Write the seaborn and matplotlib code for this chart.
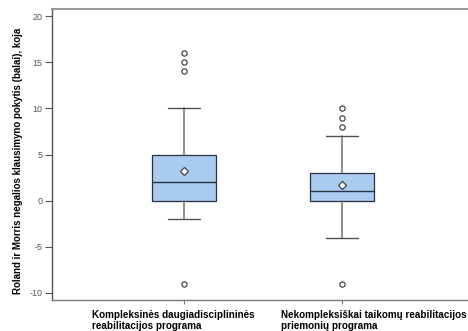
import matplotlib
matplotlib.use("Agg")
import matplotlib.pyplot as plt
import seaborn as sns

# Group names (two-line x labels)
groups = ["Kompleksinės daugiadisciplininės\nreabilitacijos programa",
          "Nekompleksiškai taikomų reabilitacijos\npriemonių programa"]

# Box statistics for each group
q1 = [0, 0]
median = [2, 1]
q3 = [5, 3]
whisker_low = [-2, -4]
whisker_high = [10, 7]
means = [3.2, 1.65]
outliers = [[14, 15, 16, -9], [8, 9, 10, -9]]

y_label = "Roland ir Morris negalios klausimyno pokytis (balai), koja"
y_ticks = [-10, -5, 0, 5, 10, 15, 20]

sns.set_style("white")
plt.rcParams["font.family"] = ["Liberation Sans", "DejaVu Sans"]

fig = plt.figure(figsize=(4.68, 3.31), dpi=100)
ax = fig.add_axes([52 / 468, 31 / 331, 422 / 468, 291 / 331])

stats = []
for i in range(len(groups)):
    stats.append(dict(q1=q1[i], med=median[i], q3=q3[i],
                      whislo=whisker_low[i], whishi=whisker_high[i],
                      mean=means[i], fliers=outliers[i]))

ax.bxp(stats, positions=[0, 1], widths=0.4, capwidths=0.2,
       showmeans=True, patch_artist=True,
       boxprops=dict(facecolor="#A9CBF0", edgecolor="#2B3040", linewidth=0.9),
       medianprops=dict(color="#2B3040", linewidth=1.0),
       whiskerprops=dict(color="#707070", linewidth=1.1),
       capprops=dict(color="#505050", linewidth=1.0),
       flierprops=dict(marker="o", markersize=3.8, markerfacecolor="white",
                       markeredgecolor="#333333", markeredgewidth=0.8),
       meanprops=dict(marker="D", markersize=4.2, markerfacecolor="white",
                      markeredgecolor="#444444", markeredgewidth=0.9))

ax.set_xlim(-0.835, 1.835)
ax.set_ylim(-10.76, 20.76)
ax.set_yticks(y_ticks)
ax.set_yticklabels([str(t) for t in y_ticks], color="#555555", fontsize=6.5)
ax.set_xticks([0, 1])
ax.set_xticklabels(["", ""])
ax.tick_params(axis="y", direction="out", length=5, width=0.8, color="#555555",
               left=True, pad=2)
ax.tick_params(axis="x", direction="out", length=3, width=0.8, color="#777777",
               bottom=True)

for side in ["left", "bottom", "top", "right"]:
    ax.spines[side].set_linewidth(1.0)
ax.spines["left"].set_color("#555555")
ax.spines["bottom"].set_color("#777777")
ax.spines["top"].set_color("#999999")
ax.spines["top"].set_linewidth(1.5)
ax.spines["right"].set_visible(False)

# Group labels, left-aligned under each box
label_x = [-0.582, 0.614]
for x, g in zip(label_x, groups):
    ax.text(x, -0.035, g, transform=ax.get_xaxis_transform(), ha="left", va="top",
            fontsize=7.1, fontweight="bold", color="black", linespacing=1.1)

fig.text(18 / 468, 1 - 161 / 331, y_label, rotation=90, ha="center", va="center",
         fontsize=7.0, fontweight="bold", color="black")

fig.savefig("out.png", dpi=100, facecolor="white")
